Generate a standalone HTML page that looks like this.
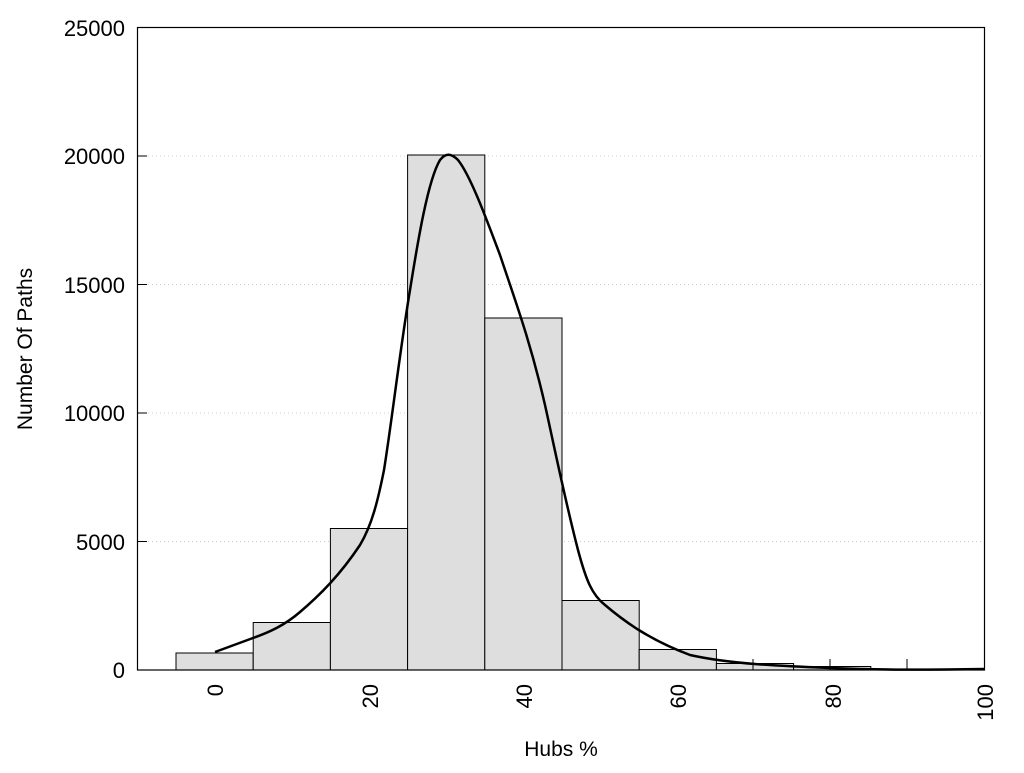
<!DOCTYPE html>
<html><head><style>body{margin:0;background:#fff}</style></head><body>
<svg width="1024" height="768" xmlns="http://www.w3.org/2000/svg" font-family="Liberation Sans, sans-serif">
<g stroke="#ccc" stroke-dasharray="1,3" stroke-width="1">
<line x1="148" y1="156" x2="985" y2="156"/><line x1="148" y1="284.5" x2="985" y2="284.5"/>
<line x1="148" y1="413" x2="985" y2="413"/><line x1="148" y1="541.5" x2="985" y2="541.5"/>
</g>
<g fill="#dedede" stroke="#000" stroke-width="1">
<rect x="176" y="653" width="77.2" height="17"/>
<rect x="253.2" y="622.5" width="77.2" height="47.5"/>
<rect x="330.4" y="528.5" width="77.2" height="141.5"/>
<rect x="407.6" y="155" width="77.2" height="515"/>
<rect x="484.8" y="318" width="77.2" height="352"/>
<rect x="562" y="600.5" width="77.2" height="69.5"/>
<rect x="639.2" y="649.5" width="77.2" height="20.5"/>
<rect x="716.4" y="663.5" width="77.2" height="6.5"/>
<rect x="793.6" y="666.5" width="77.2" height="3.5"/>
</g>
<g stroke="#000" stroke-width="1">
<line x1="137.5" y1="156" x2="147" y2="156"/><line x1="137.5" y1="284.5" x2="147" y2="284.5"/>
<line x1="137.5" y1="413" x2="147" y2="413"/><line x1="137.5" y1="541.5" x2="147" y2="541.5"/>
<line x1="753" y1="670" x2="753" y2="659"/><line x1="830" y1="670" x2="830" y2="659"/><line x1="907" y1="670" x2="907" y2="659"/>
</g>
<rect x="137.5" y="27.5" width="847" height="642.5" fill="none" stroke="#000" stroke-width="1.2"/>
<path d="M215,652 L253,638 C270,632 285,625 300,612 C320,595 340,575 360,545 C372,525 378,500 384,470 C392,420 400,350 410,290 C418,240 428,180 440,160 C446,152 452,154 458,160 C470,175 485,215 500,255 C515,300 530,340 545,405 C555,450 565,500 578,550 C586,580 592,595 605,605 C625,622 650,640 690,655 C730,664 780,666 830,668 C880,670 920,670 985,669" fill="none" stroke="#000" stroke-width="2.5"/>
<g font-size="22" text-anchor="end" fill="#000">
<text x="125" y="36">25000</text><text x="125" y="164">20000</text><text x="125" y="293">15000</text>
<text x="125" y="421">10000</text><text x="125" y="550">5000</text><text x="125" y="678">0</text>
</g>
<g font-size="22" text-anchor="end" fill="#000">
<text transform="translate(223,684) rotate(-90)">0</text>
<text transform="translate(378,684) rotate(-90)">20</text>
<text transform="translate(532,684) rotate(-90)">40</text>
<text transform="translate(686,684) rotate(-90)">60</text>
<text transform="translate(841,684) rotate(-90)">80</text>
<text transform="translate(993,684) rotate(-90)">100</text>
</g>
<text x="561" y="756" font-size="21" text-anchor="middle">Hubs %</text>
<text transform="translate(32,349) rotate(-90)" font-size="21" text-anchor="middle">Number Of Paths</text>
</svg>
</body></html>
